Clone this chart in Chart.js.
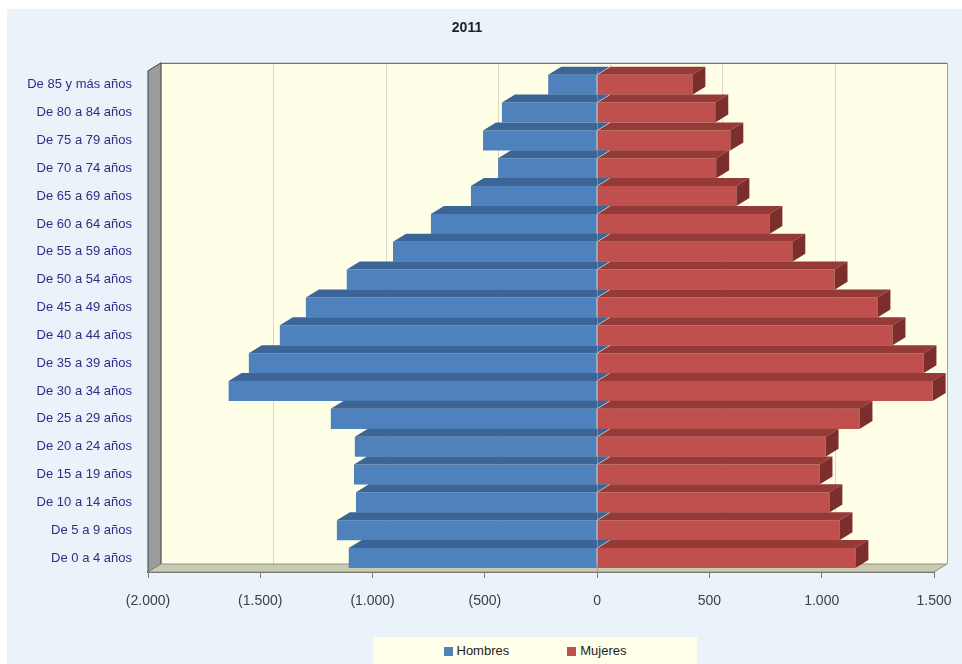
<!DOCTYPE html>
<html>
<head>
<meta charset="utf-8">
<script src="https://cdn.jsdelivr.net/npm/chart.js@4.4.1/dist/chart.umd.min.js"></script>
<style>
  html, body { margin: 0; padding: 0; background: #ffffff; }
  #wrap { position: relative; width: 962px; height: 664px; overflow: hidden; }
  #panel { position: absolute; left: 7px; top: 9px; width: 955px; height: 655px; background: #EAF2FA; }
  #wrap canvas { position: absolute; left: 0; top: 0; }
  #leyenda {
    position: absolute; left: 373px; top: 637px; width: 324px; height: 27px;
    background: #FFFFEA; font: 13px "Liberation Sans", Arial, sans-serif; color: #222;
    display: flex; justify-content: center; align-items: center; gap: 58px;
  }
  #leyenda span.sq { display: inline-block; width: 9px; height: 9px; margin-right: 4px; vertical-align: -1px; }
</style>
</head>
<body>
<div id="wrap">
  <div id="panel"></div>
  <canvas id="piramide" width="962" height="664"></canvas>
  <div id="leyenda">
    <div><span class="sq" style="background:#4F81BD"></span>Hombres</div>
    <div><span class="sq" style="background:#C0504D"></span>Mujeres</div>
  </div>
</div>
<script>
// === Datos ===
const grupos = [
    'De 85 y más años', 'De 80 a 84 años', 'De 75 a 79 años', 'De 70 a 74 años',
    'De 65 a 69 años', 'De 60 a 64 años', 'De 55 a 59 años', 'De 50 a 54 años',
    'De 45 a 49 años', 'De 40 a 44 años', 'De 35 a 39 años', 'De 30 a 34 años',
    'De 25 a 29 años', 'De 20 a 24 años', 'De 15 a 19 años', 'De 10 a 14 años',
    'De 5 a 9 años', 'De 0 a 4 años'
];
const hombres = [218, 424, 508, 441, 562, 740, 909, 1115, 1297, 1413, 1551, 1641, 1186, 1079, 1083, 1074, 1159, 1106];
const mujeres = [424, 526, 593, 530, 620, 767, 869, 1057, 1248, 1315, 1453, 1494, 1168, 1017, 990, 1034, 1079, 1150];
const titulo = '2011';

// profundidad del efecto 3D
const DX = 13, DY = -8;

function formatoNum(v) {
    const s = Math.abs(v).toString().replace(/\B(?=(\d{3})+(?!\d))/g, '.');
    return v < 0 ? '(' + s + ')' : s;
}

// paredes, suelo y rejilla del fondo
const fondo3d = {
    id: 'fondo3d',
    beforeDatasetsDraw(chart) {
        const { ctx, chartArea: a, scales } = chart;
        ctx.save();
        // pared del fondo
        ctx.fillStyle = '#FFFFE8';
        ctx.fillRect(a.left + DX, a.top + DY, a.right - a.left, a.bottom - a.top);
        // rejilla
        ctx.strokeStyle = '#D9D9C6';
        ctx.lineWidth = 1;
        scales.x.ticks.forEach(t => {
            const px = Math.round(scales.x.getPixelForValue(t.value) + DX) + 0.5;
            ctx.beginPath();
            ctx.moveTo(px, a.top + DY);
            ctx.lineTo(px, a.bottom + DY);
            ctx.stroke();
        });
        // borde superior y derecho de la pared
        ctx.strokeStyle = '#555';
        ctx.beginPath();
        ctx.moveTo(a.left + DX, a.top + DY + 0.5);
        ctx.lineTo(a.right + DX, a.top + DY + 0.5);
        ctx.stroke();
        ctx.strokeStyle = '#A0A0A0';
        ctx.beginPath();
        ctx.moveTo(a.right + DX + 0.5, a.top + DY);
        ctx.lineTo(a.right + DX + 0.5, a.bottom + DY);
        ctx.stroke();
        // pared izquierda
        ctx.fillStyle = '#9C9C9C';
        ctx.strokeStyle = '#444';
        ctx.beginPath();
        ctx.moveTo(a.left, a.top);
        ctx.lineTo(a.left + DX, a.top + DY);
        ctx.lineTo(a.left + DX, a.bottom + DY);
        ctx.lineTo(a.left, a.bottom);
        ctx.closePath();
        ctx.fill();
        ctx.stroke();
        // suelo
        ctx.fillStyle = '#CACAB4';
        ctx.beginPath();
        ctx.moveTo(a.left, a.bottom);
        ctx.lineTo(a.left + DX, a.bottom + DY);
        ctx.lineTo(a.right + DX, a.bottom + DY);
        ctx.lineTo(a.right, a.bottom);
        ctx.closePath();
        ctx.fill();
        ctx.strokeStyle = '#8E8E80';
        ctx.stroke();
        ctx.restore();
    },
    afterDatasetsDraw(chart) {
        const { ctx } = chart;
        const caras = [
            { top: '#3B6596', side: '#32557F' },
            { top: '#963A37', side: '#7B2E2C' }
        ];
        ctx.save();
        chart.data.datasets.forEach((ds, i) => {
            const meta = chart.getDatasetMeta(i);
            meta.data.forEach(bar => {
                const { x, base, y, height } = bar.getProps(['x', 'base', 'y', 'height'], true);
                const x0 = Math.min(x, base), x1 = Math.max(x, base);
                const yt = y - height / 2, yb = y + height / 2;
                // cara superior
                ctx.fillStyle = caras[i].top;
                ctx.beginPath();
                ctx.moveTo(x0, yt);
                ctx.lineTo(x0 + DX, yt + DY);
                ctx.lineTo(x1 + DX, yt + DY);
                ctx.lineTo(x1, yt);
                ctx.closePath();
                ctx.fill();
                // cara lateral (solo visible a la derecha)
                if (i === 1) {
                    ctx.fillStyle = caras[i].side;
                    ctx.beginPath();
                    ctx.moveTo(x1, yt);
                    ctx.lineTo(x1 + DX, yt + DY);
                    ctx.lineTo(x1 + DX, yb + DY);
                    ctx.lineTo(x1, yb);
                    ctx.closePath();
                    ctx.fill();
                }
            });
        });
        // línea del cero
        const a = chart.chartArea;
        const px0 = Math.round(chart.scales.x.getPixelForValue(0)) + 0.5;
        ctx.strokeStyle = 'rgba(150,150,150,0.8)';
        ctx.beginPath();
        ctx.moveTo(px0, a.top);
        ctx.lineTo(px0, a.bottom);
        ctx.stroke();
        ctx.restore();
    }
};

const ctx = document.getElementById('piramide');
new Chart(ctx, {
    type: 'bar',
    data: {
        labels: grupos,
        datasets: [
            {
                label: 'Hombres',
                data: hombres.map(v => -v),
                backgroundColor: '#4F81BD',
                barPercentage: 0.72,
                categoryPercentage: 1
            },
            {
                label: 'Mujeres',
                data: mujeres,
                backgroundColor: '#C0504D',
                barPercentage: 0.72,
                categoryPercentage: 1
            }
        ]
    },
    options: {
        indexAxis: 'y',
        responsive: false,
        animation: false,
        layout: { padding: { left: 0, right: 28, top: 0, bottom: 0 } },
        scales: {
            x: {
                stacked: true,
                min: -2000,
                max: 1500,
                ticks: {
                    stepSize: 500,
                    padding: 15,
                    color: '#404040',
                    font: { family: 'Liberation Sans', size: 14 },
                    callback: v => formatoNum(v)
                },
                grid: { drawOnChartArea: false, drawTicks: true, tickLength: 6, color: '#777' },
                border: { display: true, color: '#666', width: 2 },
                afterFit(scale) {
                    scale.height = 92;
                    scale.paddingLeft = 0;
                    scale.paddingRight = 0;
                }
            },
            y: {
                stacked: true,
                ticks: {
                    padding: 8,
                    color: '#2E2E86',
                    font: { family: 'Liberation Sans', size: 13 }
                },
                grid: { display: false },
                border: { display: false },
                afterFit(scale) { scale.width = 148; }
            }
        },
        plugins: {
            legend: { display: false },
            tooltip: { enabled: false },
            title: {
                display: true,
                text: titulo,
                color: '#222',
                font: { family: 'Liberation Sans', size: 14, weight: 'bold' },
                padding: { top: 20, bottom: 34 }
            }
        }
    },
    plugins: [fondo3d]
});
</script>
</body>
</html>
